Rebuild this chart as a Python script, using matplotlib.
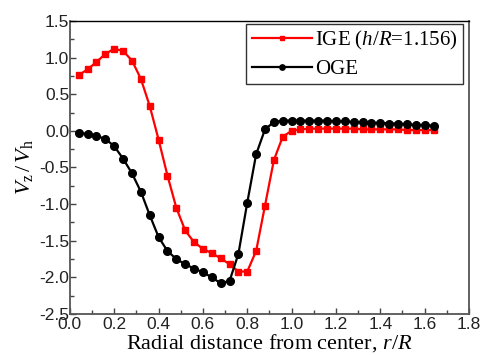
import matplotlib
matplotlib.use("Agg")
import matplotlib.pyplot as plt
from matplotlib.ticker import MultipleLocator

plt.rcParams["font.family"] = ["Liberation Sans", "DejaVu Sans"]
plt.rcParams["mathtext.fontset"] = "custom"
plt.rcParams["mathtext.rm"] = "Liberation Serif"
plt.rcParams["mathtext.it"] = "Liberation Serif:italic"
plt.rcParams["axes.unicode_minus"] = False

# r/R positions (same for both series)
r_over_R = [0.04 * k for k in range(1, 42)]

ige_vz = [0.76, 0.84, 0.94, 1.05, 1.12, 1.09, 0.96, 0.71, 0.34, -0.12,
          -0.61, -1.05, -1.36, -1.52, -1.61, -1.67, -1.74, -1.82, -1.92, -1.92,
          -1.64, -1.02, -0.40, -0.08, 0.00, 0.02, 0.03, 0.03, 0.03, 0.03,
          0.03, 0.03, 0.02, 0.02, 0.02, 0.02, 0.02, 0.01, 0.01, 0.01, 0.01]

oge_vz = [-0.03, -0.04, -0.07, -0.11, -0.21, -0.38, -0.58, -0.83, -1.15, -1.45,
          -1.64, -1.75, -1.82, -1.88, -1.93, -2.00, -2.08, -2.05, -1.68, -0.98,
          -0.32, 0.02, 0.12, 0.14, 0.14, 0.14, 0.14, 0.14, 0.14, 0.13,
          0.13, 0.12, 0.12, 0.11, 0.11, 0.10, 0.10, 0.09, 0.08, 0.08, 0.07]

fig = plt.figure(figsize=(4.82, 3.55), dpi=100)
ax = fig.add_axes([0.145, 0.1155, 0.828, 0.8255])

ax.plot(r_over_R, ige_vz, color="red", marker="s", ms=5, lw=1.6,
        label="IGE ($h$/$R$=1.156)")
ax.plot(r_over_R, oge_vz, color="black", marker="o", ms=5.5, lw=1.6,
        label="OGE")

ax.set_xlim(0, 1.8)
ax.set_ylim(-2.5, 1.5)
ax.xaxis.set_major_locator(MultipleLocator(0.2))
ax.xaxis.set_minor_locator(MultipleLocator(0.1))
ax.yaxis.set_major_locator(MultipleLocator(0.5))
ax.yaxis.set_minor_locator(MultipleLocator(0.25))
ax.tick_params(which="both", direction="in", top=False, right=False,
               color="#444444", labelsize=12.5, labelcolor="#222222")
ax.tick_params(axis="x", pad=2)
ax.tick_params(axis="y", pad=0.5)
ax.tick_params(which="major", length=4, width=1)
ax.tick_params(which="minor", length=3, width=1)

for side in ("left", "bottom", "right"):
    ax.spines[side].set_color("#555555")
    ax.spines[side].set_linewidth(1.3)
ax.spines["top"].set_color("black")
ax.spines["top"].set_linewidth(1.0)

serif = {"family": "Liberation Serif", "size": 16}
ax.set_xlabel("Radial distance from center, $r$/$R$", fontdict=serif, labelpad=0)
ax.set_ylabel(r"$V_{\mathrm{z}}\,/\,V_{\mathrm{h}}$", fontdict=serif, labelpad=3)

leg = ax.legend(loc="upper right", bbox_to_anchor=(0.985, 0.99),
                prop={"family": "Liberation Serif", "size": 15},
                frameon=True, fancybox=False, edgecolor="black",
                borderpad=0.25, handlelength=2.9, handletextpad=0.15,
                labelspacing=0.35, borderaxespad=0, markerscale=0.7)
leg.get_frame().set_linewidth(1.0)

fig.savefig("out.png", dpi=100, facecolor="white")
